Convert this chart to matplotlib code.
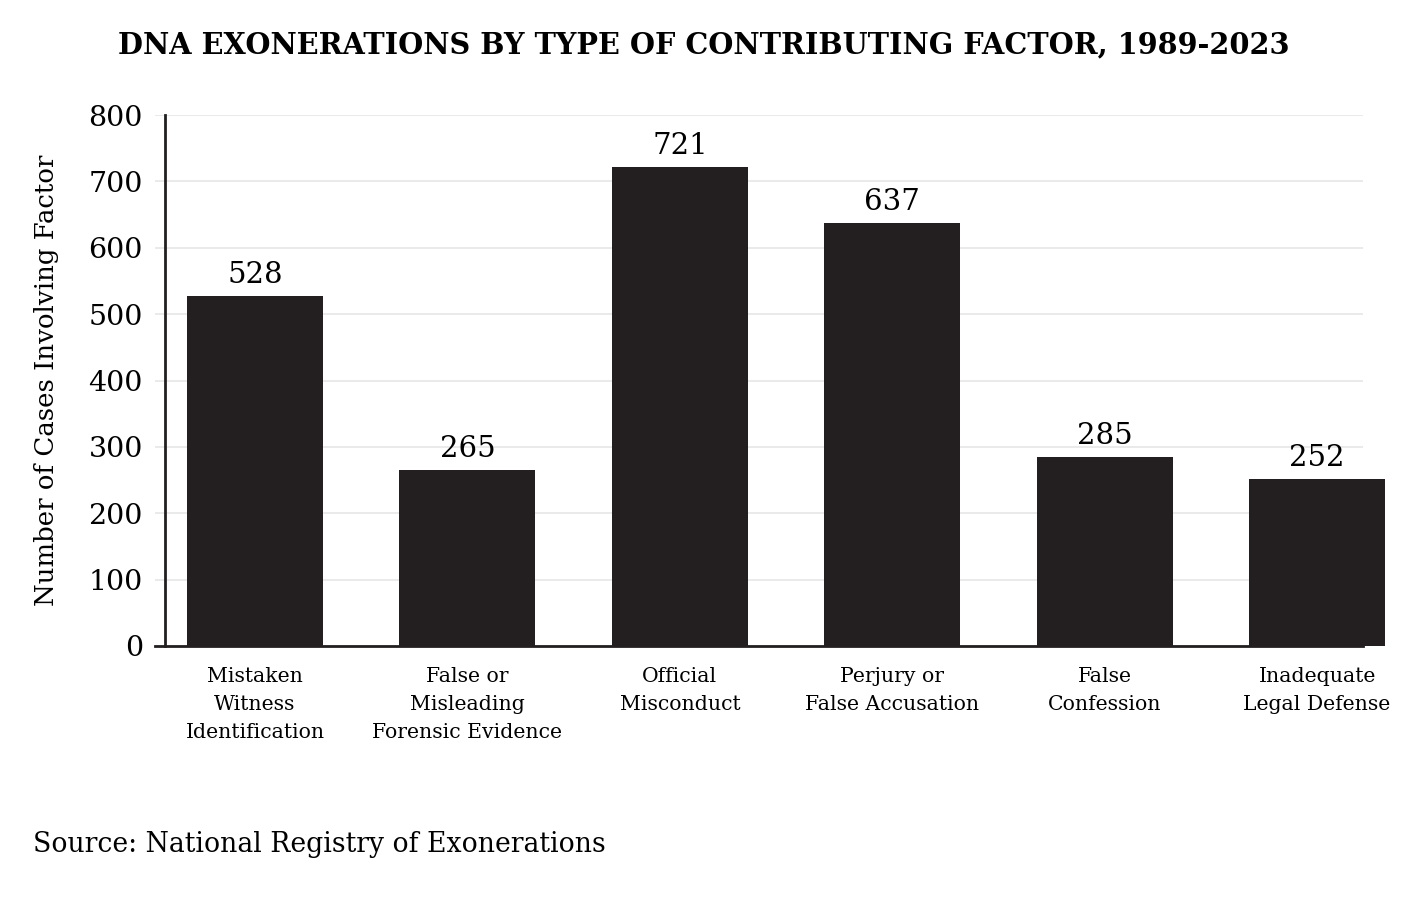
import matplotlib
matplotlib.use("Agg")
import matplotlib.pyplot as plt

categories = ["Mistaken\nWitness\nIdentification",
              "False or\nMisleading\nForensic Evidence",
              "Official\nMisconduct",
              "Perjury or\nFalse Accusation",
              "False\nConfession",
              "Inadequate\nLegal Defense"]
values = [528, 265, 721, 637, 285, 252]
yticks = [0, 100, 200, 300, 400, 500, 600, 700, 800]

plt.rcParams['font.family'] = ['DejaVu Serif']
dark = '#231f20'

fig = plt.figure(figsize=(14.08, 9), dpi=100)
ax = fig.add_axes([155/1408, 1-646/900, 1208/1408, 531/900])

x = list(range(len(values)))
bars = ax.bar(x, values, width=0.64, color=dark, zorder=3, clip_on=False)
for xi, v in zip(x, values):
    ax.annotate(str(v), (xi, v), xytext=(0, 5), textcoords='offset points',
                ha='center', va='bottom', fontsize=21, color='black')

ax.set_xlim(-0.471, 5.216)
ax.set_ylim(0, 800)
ax.set_yticks(yticks)
ax.set_yticklabels([str(t) for t in yticks])
ax.set_xticks(x)
ax.set_xticklabels(categories, linespacing=1.6)
ax.tick_params(axis='both', length=0, colors='black')
ax.tick_params(axis='y', pad=16, labelsize=20.5)
ax.tick_params(axis='x', pad=15, labelsize=14.7)
ax.grid(axis='y', color='#e6e6e6', linewidth=1.2, zorder=0)
ax.set_axisbelow(True)

for s in ['top', 'right']:
    ax.spines[s].set_visible(False)
ax.spines['left'].set_position(('axes', 10/1208))
ax.spines['left'].set_color(dark)
ax.spines['left'].set_linewidth(2)
ax.spines['bottom'].set_color(dark)
ax.spines['bottom'].set_linewidth(2)
ax.spines['left'].set_zorder(4)

fig.text(47/1408, 1-380/900, "Number of Cases Involving Factor", rotation=90,
         ha='center', va='center', fontsize=18.7)
fig.text(704/1408, 1-45/900, "DNA EXONERATIONS BY TYPE OF CONTRIBUTING FACTOR, 1989-2023",
         ha='center', va='center', fontsize=20.7, fontweight='bold')
fig.text(33/1408, 1-845/900, "Source: National Registry of Exonerations",
         ha='left', va='center', fontsize=19.2)

fig.savefig("out.png", dpi=100, facecolor='white')
